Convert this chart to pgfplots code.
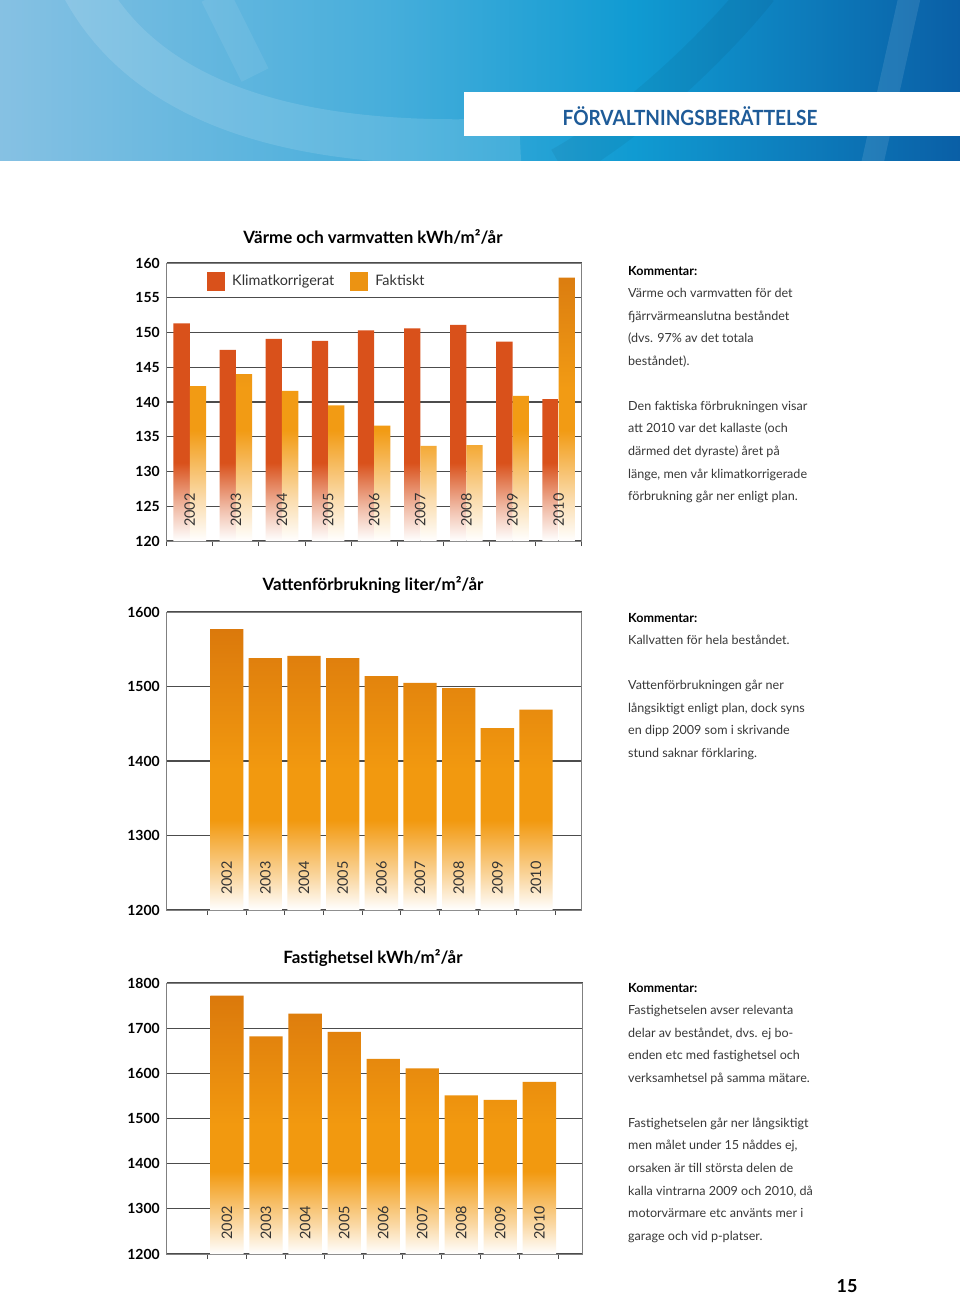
\documentclass[border=0pt]{standalone}
\usepackage{pgfplots}
\pgfplotsset{compat=1.18}
\usepackage{fontspec}
\setmainfont{Lato}
\newfontfamily\headfont[FakeStretch=0.91]{Lato}
\definecolor{klim}{HTML}{D9511B}
\definecolor{fakTop}{HTML}{DB7D10}
\definecolor{fakMid}{HTML}{F29B14}
\definecolor{oTop}{HTML}{DB790C}
\definecolor{oMid}{HTML}{F2990F}
\definecolor{b1}{HTML}{86C1E3}
\definecolor{b2}{HTML}{47AEDB}
\definecolor{b3}{HTML}{109BD2}
\definecolor{b4}{HTML}{0A5FA6}
\definecolor{headblue}{HTML}{1E5B98}
\definecolor{fakLeg}{HTML}{EC9312}
\pgfdeclareverticalshading{klimsh}{100bp}{color(0bp)=(white); color(25bp)=(white); color(32bp)=(klim!35!white); color(43bp)=(klim); color(75bp)=(klim); color(100bp)=(klim)}
\pgfdeclareverticalshading{faksh}{100bp}{color(0bp)=(white); color(25bp)=(white); color(33bp)=(fakMid!35!white); color(46bp)=(fakMid); color(54bp)=(fakMid); color(75bp)=(fakTop); color(100bp)=(fakTop)}
\pgfdeclareverticalshading{osh}{100bp}{color(0bp)=(white); color(25bp)=(white); color(31bp)=(oMid!40!white); color(41bp)=(oMid); color(50bp)=(oMid); color(75bp)=(oTop); color(100bp)=(oTop)}
\pgfdeclarehorizontalshading{banner}{100bp}{color(0bp)=(b1); color(25bp)=(b1); color(45bp)=(b2); color(58bp)=(b3); color(75bp)=(b4); color(100bp)=(b4)}
\pgfplotsset{
  pageaxis/.style={
    scale only axis, anchor=south west, width=415bp,
    axis line style={draw=black!50, line width=0.9bp},
    ymajorgrids, grid style={draw=black!70, line width=1.1bp},
    ytick style={draw=none},
    xtick style={draw=black!70, line width=0.9bp},
    major tick length=5bp, tick align=center, xtick pos=bottom,
    xticklabels={},
    /pgf/number format/1000 sep={},
    /pgf/number format/assume math mode=true,
    yticklabel style={font=\bfseries\fontsize{14}{14}\selectfont, text=black, xshift=-1bp},
    ybar=0pt,
  },
}
\tikzset{yearlab/.style={rotate=90, anchor=west, inner sep=0pt, font=\fontsize{14.5}{14.5}\selectfont, text=black!80}}
\begin{document}
\begin{tikzpicture}
\useasboundingbox (0,0) rectangle (960bp,-1294bp);
\fill[white] (0,0) rectangle (960bp,-1294bp);
% header banner
\shade[shading=banner] (0,0) rectangle (960bp,-160bp);
\begin{scope}
\clip (0,0) rectangle (960bp,-160bp);
\draw[white, opacity=0.12, line width=45bp] (80bp,20bp) .. controls (150bp,-120bp) and (330bp,-150bp) .. (520bp,-140bp);
\draw[white, opacity=0.08, line width=30bp] (215bp,5bp) -- (255bp,-75bp);
\draw[white, opacity=0.10, line width=22bp] (910bp,5bp) -- (872bp,-165bp);
\draw[black, opacity=0.05, line width=35bp] (560bp,-165bp) .. controls (640bp,-120bp) and (720bp,-40bp) .. (760bp,10bp);
\end{scope}
\fill[white] (464bp,-92bp) rectangle (960bp,-136bp);
\node[font=\headfont\bfseries\fontsize{21}{21}\selectfont, text=headblue] at (690bp,-116bp) {FÖRVALTNINGSBERÄTTELSE};

% titles
\node[font=\bfseries\fontsize{17}{17}\selectfont] at (373bp,-237bp) {Värme och varmvatten kWh/m²/år};
\node[font=\bfseries\fontsize{17}{17}\selectfont] at (373bp,-585bp) {Vattenförbrukning liter/m²/år};
\node[font=\bfseries\fontsize{17}{17}\selectfont] at (373bp,-958bp) {Fastighetsel kWh/m²/år};

% chart 1
\begin{axis}[pageaxis, at={(166.7bp,-541bp)}, height=278bp,
  xmin=-0.5, xmax=8.5, ymin=120, ymax=160, ytick={120,125,...,160},
  xtick={-0.5,0.5,...,8.5}, bar width=16.3bp,
  y coord trafo/.code={\pgfmathparse{#1-120}},
  y coord inv trafo/.code={\pgfmathparse{#1+120}},
  legend style={at={(0.09,0.935)}, anchor=west, draw=none, fill=none, legend columns=2,
    font=\fontsize{14.5}{14.5}\selectfont, text=black!80,
    /tikz/every odd column/.append style={column sep=5bp},
    /tikz/every even column/.append style={column sep=14bp}},
]
\addplot[draw=none, shade, shading=klimsh, legend image code/.code={\pgfsetfillcolor{klim}\pgfpathrectangle{\pgfpoint{0bp}{-9.5bp}}{\pgfpoint{18bp}{19bp}}\pgfusepath{fill}}]
  coordinates {(0,151.3)(1,147.5)(2,149.1)(3,148.8)(4,150.3)(5,150.6)(6,151.1)(7,148.7)(8,140.4)};
\addplot[draw=none, shade, shading=faksh, legend image code/.code={\pgfsetfillcolor{fakLeg}\pgfpathrectangle{\pgfpoint{0bp}{-9.5bp}}{\pgfpoint{18bp}{19bp}}\pgfusepath{fill}}]
  coordinates {(0,142.3)(1,144.0)(2,141.6)(3,139.5)(4,136.6)(5,133.7)(6,133.8)(7,140.9)(8,157.9)};
\legend{Klimatkorrigerat, Faktiskt}
\pgfplotsinvokeforeach{0,...,8}{\node[yearlab] at (rel axis cs:{(#1+0.5)/9},0.05) {\number\numexpr2002+#1\relax};}
\end{axis}

% chart 2
\begin{axis}[pageaxis, at={(166.7bp,-910bp)}, height=298bp,
  xmin=-1.55, xmax=9.18, ymin=1200, ymax=1600, ytick={1200,1300,...,1600},
  xtick={-0.5,0.5,...,8.5}, bar width=33.3bp,
  y coord trafo/.code={\pgfmathparse{#1-1200}},
  y coord inv trafo/.code={\pgfmathparse{#1+1200}},
]
\addplot[draw=none, shade, shading=osh]
  coordinates {(0,1577)(1,1538)(2,1541)(3,1538)(4,1514)(5,1505)(6,1498)(7,1444)(8,1469)};
\pgfplotsinvokeforeach{0,...,8}{\node[yearlab] at (rel axis cs:{(#1+1.55)/10.73},0.05) {\number\numexpr2002+#1\relax};}
\end{axis}

% chart 3
\begin{axis}[pageaxis, at={(166.7bp,-1254bp)}, height=271bp, width=416bp,
  xmin=-1.545, xmax=9.11, ymin=1200, ymax=1800, ytick={1200,1300,...,1800},
  xtick={-0.5,0.5,...,8.5}, bar width=33.3bp,
  y coord trafo/.code={\pgfmathparse{#1-1200}},
  y coord inv trafo/.code={\pgfmathparse{#1+1200}},
]
\addplot[draw=none, shade, shading=osh]
  coordinates {(0,1772)(1,1682)(2,1732)(3,1692)(4,1632)(5,1611)(6,1551)(7,1541)(8,1581)};
\pgfplotsinvokeforeach{0,...,8}{\node[yearlab] at (rel axis cs:{(#1+1.545)/10.655},0.052) {\number\numexpr2002+#1\relax};}
\end{axis}

% comment texts
\node[anchor=north west, inner sep=0pt, align=left, font=\fontsize{12.6}{22.6}\selectfont, text=black!78] at (628bp,-266bp)
{\textbf{\color{black}Kommentar:}\\
Värme och varmvatten för det\\
fjärrvärmeanslutna beståndet\\
(dvs. 97\% av det totala\\
beståndet).\\[22.6bp]
Den faktiska förbrukningen visar\\
att 2010 var det kallaste (och\\
därmed det dyraste) året på\\
länge, men vår klimatkorrigerade\\
förbrukning går ner enligt plan.};

\node[anchor=north west, inner sep=0pt, align=left, font=\fontsize{12.6}{22.6}\selectfont, text=black!78] at (628bp,-613bp)
{\textbf{\color{black}Kommentar:}\\
Kallvatten för hela beståndet.\\[22.6bp]
Vattenförbrukningen går ner\\
långsiktigt enligt plan, dock syns\\
en dipp 2009 som i skrivande\\
stund saknar förklaring.};

\node[anchor=north west, inner sep=0pt, align=left, font=\fontsize{12.6}{22.6}\selectfont, text=black!78] at (628bp,-983bp)
{\textbf{\color{black}Kommentar:}\\
Fastighetselen avser relevanta\\
delar av beståndet, dvs. ej bo-\\
enden etc med fastighetsel och\\
verksamhetsel på samma mätare.\\[22.6bp]
Fastighetselen går ner långsiktigt\\
men målet under 15 nåddes ej,\\
orsaken är till största delen de\\
kalla vintrarna 2009 och 2010, då\\
motorvärmare etc använts mer i\\
garage och vid p-platser.};

\node[font=\bfseries\fontsize{18}{18}\selectfont, anchor=base, inner sep=0pt] at (847bp,-1292bp) {15};
\end{tikzpicture}
\end{document}
